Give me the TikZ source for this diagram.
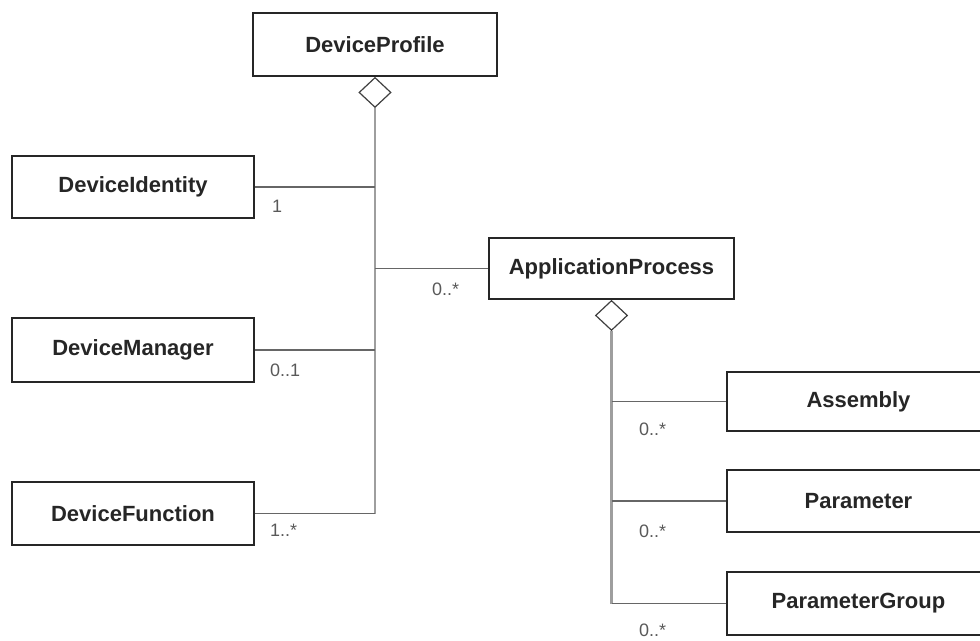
\documentclass[tikz,border=0pt]{standalone}
\usepackage{fontspec}
\setmainfont{Liberation Sans}
\usetikzlibrary{shapes.geometric}
\begin{document}
\begin{tikzpicture}[x=1pt,y=-1pt,
  cls/.style={draw=black!85, line width=1.7pt, fill=white, minimum width=242pt, minimum height=62pt, inner sep=0pt,
    font=\fontsize{22}{26}\selectfont\bfseries, text=black!85},
  agg/.style={diamond, draw=black!75, line width=1.2pt, fill=white, minimum width=32pt, minimum height=30pt, inner sep=0pt, anchor=north},
  trunk/.style={draw=black!38, line width=2.4pt},
  conn/.style={draw=black!60, line width=1.4pt},
  mult/.style={anchor=west, inner sep=0pt, font=\fontsize{18}{22}\selectfont, text=black!65}]
\useasboundingbox (0,0) rectangle (980,640);
% classes
\node[cls, minimum width=244pt, minimum height=63pt] (prof) at (375,44.5) {DeviceProfile};
\node[cls] (ident) at (133,187) {DeviceIdentity};
\node[cls, minimum height=64pt] (man) at (133,350) {DeviceManager};
\node[cls, minimum height=63pt] (func) at (133,513.5) {DeviceFunction};
\node[cls, minimum width=245pt, minimum height=61pt] (ap) at (611.5,268.5) {ApplicationProcess};
\node[cls, minimum width=263pt, minimum height=59pt] (asm) at (858.5,401.5) {Assembly};
\node[cls, minimum width=263pt] (par) at (858.5,501) {Parameter};
\node[cls, minimum width=263pt, minimum height=63pt] (pgr) at (858.5,603.5) {ParameterGroup};
% aggregation diamonds
\node[agg] (dp) at (prof.south) {};
\node[agg] (da) at (ap.south) {};
% trunks
\path[trunk] (dp.south) -- (dp.south |- func.east);
\path[trunk] (da.south) -- (da.south |- pgr.west);
% connectors
\path[conn] (ident.east) -- (dp.south |- ident.east);
\path[conn] (man.east) -- (dp.south |- man.east);
\path[conn] (func.east) -- (dp.south |- func.east);
\path[conn] (dp.south |- ap.west) -- (ap.west);
\path[conn] (da.south |- asm.west) -- (asm.west);
\path[conn] (da.south |- par.west) -- (par.west);
\path[conn] (da.south |- pgr.west) -- (pgr.west);
% multiplicities
\node[mult] (m1) at (272,206) {1};
\node[mult] (m2) at (270,370) {0..1};
\node[mult] (m3) at (270,530) {1..*};
\node[mult] (m4) at (432,289) {0..*};
\node[mult] (m5) at (639,429) {0..*};
\node[mult] (m6) at (639,531) {0..*};
\node[mult] (m7) at (639,630) {0..*};
\end{tikzpicture}
\end{document}
